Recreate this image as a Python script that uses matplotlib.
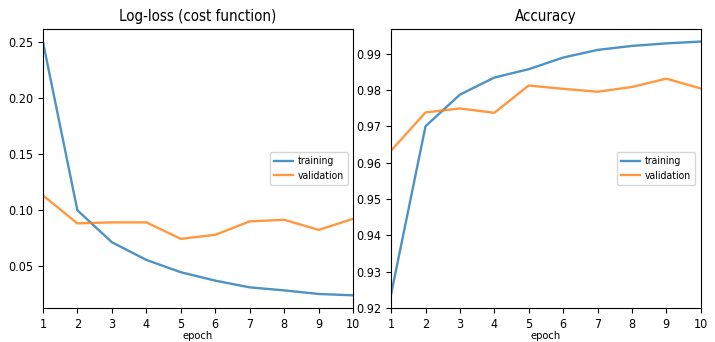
import matplotlib
matplotlib.use('Agg')
import matplotlib.pyplot as plt

epochs = [1, 2, 3, 4, 5, 6, 7, 8, 9, 10]

loss_train = [0.250, 0.0995, 0.071, 0.0552, 0.0442, 0.0367, 0.0307, 0.028, 0.0248, 0.0236]
loss_val = [0.1128, 0.0878, 0.0887, 0.0887, 0.074, 0.0776, 0.0896, 0.091, 0.082, 0.0919]

acc_train = [0.9238, 0.970, 0.9787, 0.9834, 0.9857, 0.9889, 0.9910, 0.9921, 0.9928, 0.9933]
acc_val = [0.9633, 0.9738, 0.9749, 0.9737, 0.9812, 0.9803, 0.9795, 0.9808, 0.9831, 0.9804]

plt.rcParams['font.family'] = ['DejaVu Sans']
plt.rcParams['font.stretch'] = 'condensed'
plt.rcParams['font.size'] = 9

fig = plt.figure(figsize=(7.15, 3.42), dpi=100)
ax1 = fig.add_axes([0.060, 0.0994, 0.434, 0.816])
ax2 = fig.add_axes([0.547, 0.0994, 0.433, 0.816])

leg_kw = dict(loc='center right', fontsize=7.5, handlelength=1.8, handletextpad=0.5,
              borderpad=0.4, labelspacing=0.4)

# Log-loss panel
ax1.plot(epochs, loss_train, color='tab:blue', alpha=0.8, lw=1.7, label='training')
ax1.plot(epochs, loss_val, color='tab:orange', alpha=0.8, lw=1.7, label='validation')
ax1.set_xlim(1, 10)
ax1.set_xticks(epochs)
ax1.set_yticks([0.05, 0.10, 0.15, 0.20, 0.25])
ax1.set_title('Log-loss (cost function)')
ax1.set_xlabel('epoch', fontsize=8, labelpad=0)
ax1.legend(**leg_kw)

# Accuracy panel
ax2.plot(epochs, acc_train, color='tab:blue', alpha=0.8, lw=1.7, label='training')
ax2.plot(epochs, acc_val, color='tab:orange', alpha=0.8, lw=1.7, label='validation')
ax2.set_xlim(1, 10)
ax2.set_xticks(epochs)
ax2.set_yticks([0.92, 0.93, 0.94, 0.95, 0.96, 0.97, 0.98, 0.99])
ax2.set_title('Accuracy')
ax2.set_xlabel('epoch', fontsize=8, labelpad=0)
ax2.legend(**leg_kw)

fig.savefig('out.png', dpi=100)
